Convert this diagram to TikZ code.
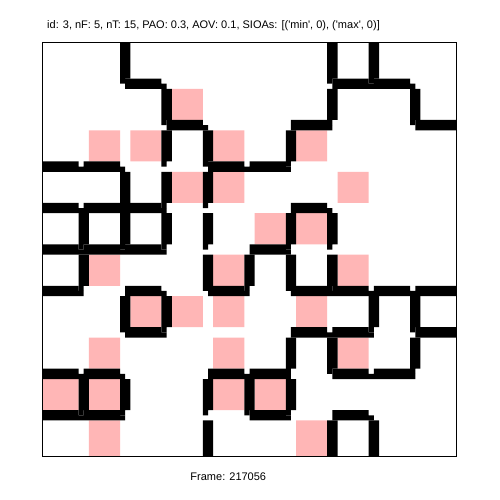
\documentclass[tikz,border=0pt]{standalone}
\usepackage{fontspec}
\setmainfont{Liberation Sans}
\definecolor{cellpink}{RGB}{255,182,182}

\begin{document}
\begin{tikzpicture}[
    x=1pt, y=-1pt,
    cell/.style={fill=cellpink},
    wall/.style={fill=black},
    border/.style={draw=black, line width=1pt},
    caption/.style={font=\fontsize{11}{13}\selectfont, inner sep=0pt}
]
    \useasboundingbox (0,0) rectangle (500,500);
    \fill[white] (0,0) rectangle (500,500);
    % Labels above and below the grid
    \node[caption, anchor=base west] (title) at (47,28.3) {id: 3, nF: 5, nT: 15, PAO: 0.3, AOV: 0.1, SIOAs: [(\textquotesingle min\textquotesingle, 0), (\textquotesingle max\textquotesingle, 0)]};
    \node[caption, anchor=base] (frame) at (228.3,480.7) {Frame: 217056};
    % Grid in image pixels (80 x 80, one cell = 8 pixels)
    \begin{scope}[shift={(42.3,42.3)}, x=5.18pt, y=-5.18pt]
        % Marked cells
        \fill[cell] \foreach \c/\r in {3/1, 1/2, 2/2, 4/2, 6/2, 3/3, 4/3, 7/3, 5/4, 6/4,
            1/5, 4/5, 7/5, 2/6, 3/6, 4/6, 6/6, 1/7, 4/7, 7/7, 0/8, 1/8, 4/8, 5/8, 1/9, 6/9}
            {({8*\c+1-(\c==0)},{8*\r+1-(\r==0)}) rectangle ({8*\c+7+(\c==9)},{8*\r+7+(\r==9)})};
        % Horizontal walls (column a to a+1 on grid line y)
        \fill[wall] \foreach \a/\y in {2/1, 7/1, 8/1, 3/2, 6/2, 9/2, 0/3, 1/3, 4/3, 5/3,
            0/4, 1/4, 2/4, 6/4, 0/5, 1/5, 2/5, 5/5, 0/6, 2/6, 4/6, 6/6, 7/6, 8/6, 9/6,
            2/7, 6/7, 7/7, 9/7, 0/8, 1/8, 4/8, 5/8, 7/8, 8/8, 0/9, 1/9, 5/9, 7/9}
            {({8*\a},{8*\y-1}) rectangle ({8*\a+7+(\a==9)},{8*\y})
             ({8*\a},{8*\y}) rectangle ({8*\a+8},{8*\y+1})};
        % Vertical walls (row a to a+1 on grid line x)
        \fill[wall] \foreach \x/\a in {1/4, 1/5, 1/8, 2/0, 2/3, 2/4, 2/6, 2/8,
            3/1, 3/2, 3/3, 3/4, 3/6, 4/2, 4/3, 4/4, 4/5, 4/8, 4/9, 5/5, 5/8,
            6/2, 6/4, 6/5, 6/7, 6/8, 7/0, 7/1, 7/4, 7/5, 7/7, 7/9, 8/0, 8/6, 8/9, 9/1, 9/6, 9/7}
            {({8*\x-1},{8*\a+1-(\a==0)}) rectangle ({8*\x},{8*\a+8})
             ({8*\x},{8*\a+1-(\a==0)}) rectangle ({8*\x+1},{8*\a+7+(\a==9)})};
        % Outer frame
        \draw[border] (0,0) rectangle (80,80);
    \end{scope}
\end{tikzpicture}
\end{document}
